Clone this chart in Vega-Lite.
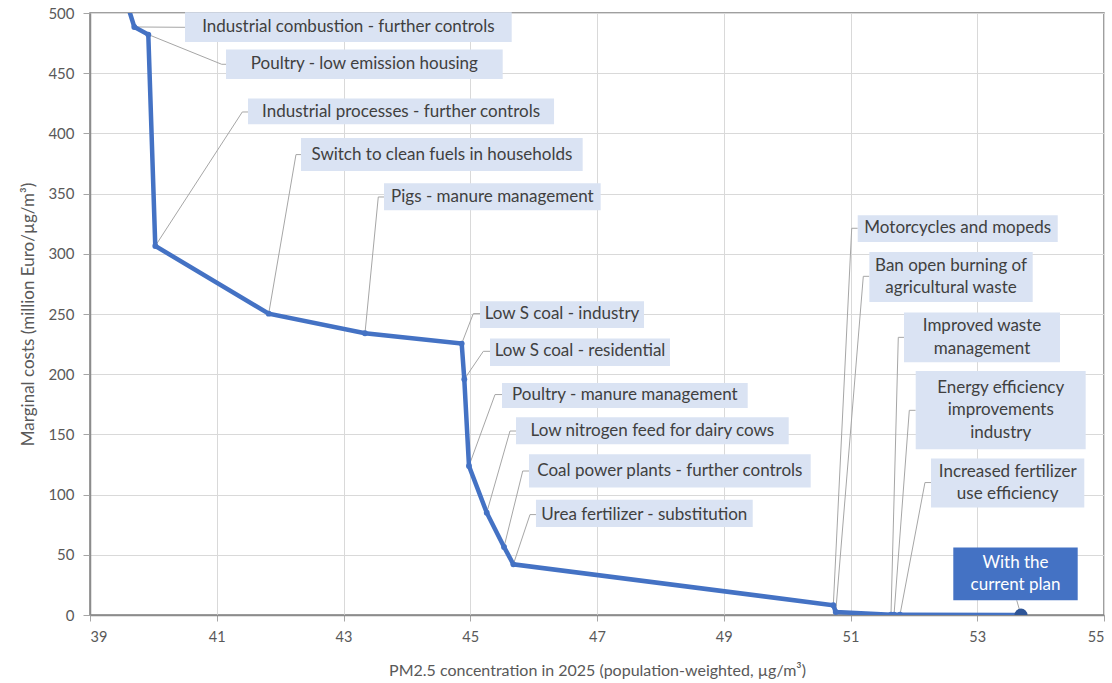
{
  "$schema": "https://vega.github.io/schema/vega-lite/v6.json",
  "width": 1014,
  "height": 602,
  "autosize": {"type": "none"},
  "padding": {"left": 90, "top": 13, "right": 8, "bottom": 68},
  "background": "white",
  "config": {
    "view": {"stroke": "#808080", "strokeWidth": 1.5},
    "font": "Lato",
    "axis": {
      "grid": true,
      "gridColor": "#D9D9D9",
      "gridWidth": 1,
      "domainColor": "#8C8C8C",
      "domainWidth": 1.5,
      "tickColor": "#A6A6A6",
      "tickSize": 7,
      "labelColor": "#595959",
      "labelFont": "Lato",
      "titleFont": "Lato",
      "titleColor": "#595959",
      "titleFontWeight": "normal"
    }
  },
  "datasets": {
    "curve": [
      {"pm": 39.56, "cost": 512},
      {"pm": 39.699, "cost": 488.4},
      {"pm": 39.92, "cost": 482.1},
      {"pm": 40.03, "cost": 306.5},
      {"pm": 41.82, "cost": 250.3},
      {"pm": 43.339, "cost": 234.0},
      {"pm": 44.865, "cost": 225.4},
      {"pm": 44.906, "cost": 195.8},
      {"pm": 44.98, "cost": 123.8},
      {"pm": 45.26, "cost": 85.0},
      {"pm": 45.533, "cost": 56.5},
      {"pm": 45.68, "cost": 42.1},
      {"pm": 50.729, "cost": 8.1},
      {"pm": 50.767, "cost": 2.5},
      {"pm": 51.639, "cost": 0.3},
      {"pm": 51.687, "cost": 0.3},
      {"pm": 51.781, "cost": 0.2},
      {"pm": 53.69, "cost": 0}
    ],
    "labels": [
      {"label": "Industrial combustion - further controls", "kind": "m", "pm": 39.699, "cost": 488.4, "ex": 40.499, "ey": 488.1, "hx": 40.499, "x1": 40.499, "x2": 45.654, "y1": 500.6, "y2": 475.9, "tx": 43.077, "ty": 488.1},
      {"label": "Poultry - low emission housing", "kind": "m", "pm": 39.92, "cost": 482.1, "ex": 41.078, "ey": 457.4, "hx": 41.146, "x1": 41.146, "x2": 45.512, "y1": 469.6, "y2": 445.2, "tx": 43.329, "ty": 457.4},
      {"label": "Industrial processes - further controls", "kind": "m", "pm": 40.03, "cost": 306.5, "ex": 41.403, "ey": 417.8, "hx": 41.493, "x1": 41.493, "x2": 46.322, "y1": 428.9, "y2": 407.6, "tx": 43.908, "ty": 417.8},
      {"label": "Switch to clean fuels in households", "kind": "m", "pm": 41.82, "cost": 250.3, "ex": 42.25, "ey": 382.4, "hx": 42.329, "x1": 42.329, "x2": 46.774, "y1": 396.2, "y2": 368.8, "tx": 44.552, "ty": 382.4},
      {"label": "Pigs - manure management", "kind": "m", "pm": 43.339, "cost": 234.0, "ex": 43.549, "ey": 347.2, "hx": 43.639, "x1": 43.639, "x2": 47.058, "y1": 358.6, "y2": 336.1, "tx": 45.349, "ty": 347.2},
      {"label": "Low S coal - industry", "kind": "m", "pm": 44.865, "cost": 225.4, "ex": 45.048, "ey": 250.3, "hx": 45.154, "x1": 45.154, "x2": 47.742, "y1": 260.5, "y2": 238.4, "tx": 46.448, "ty": 250.3},
      {"label": "Low S coal - residential", "kind": "m", "pm": 44.906, "cost": 195.8, "ex": 45.206, "ey": 219.0, "hx": 45.312, "x1": 45.312, "x2": 48.152, "y1": 229.6, "y2": 206.8, "tx": 46.732, "ty": 219.0},
      {"label": "Poultry - manure management", "kind": "m", "pm": 44.98, "cost": 123.8, "ex": 45.391, "ey": 183.1, "hx": 45.501, "x1": 45.501, "x2": 49.378, "y1": 192.7, "y2": 171.9, "tx": 47.44, "ty": 183.1},
      {"label": "Low nitrogen feed for dairy cows", "kind": "m", "pm": 45.26, "cost": 85.0, "ex": 45.627, "ey": 152.8, "hx": 45.722, "x1": 45.722, "x2": 50.025, "y1": 164.2, "y2": 141.8, "tx": 47.874, "ty": 152.8},
      {"label": "Coal power plants - further controls", "kind": "m", "pm": 45.533, "cost": 56.5, "ex": 45.828, "ey": 119.6, "hx": 45.927, "x1": 45.927, "x2": 50.372, "y1": 133.5, "y2": 105.8, "tx": 48.15, "ty": 119.6},
      {"label": "Urea fertilizer - substitution", "kind": "m", "pm": 45.68, "cost": 42.1, "ex": 45.943, "ey": 83.4, "hx": 46.037, "x1": 46.037, "x2": 49.457, "y1": 95.8, "y2": 73.1, "tx": 47.747, "ty": 83.4},
      {"label": "Motorcycles and mopeds", "kind": "m", "pm": 50.729, "cost": 8.1, "ex": 51.019, "ey": 321.2, "hx": 51.114, "x1": 51.114, "x2": 54.27, "y1": 332.0, "y2": 309.8, "tx": 52.692, "ty": 321.2},
      {"label": "Ban open burning of\nagricultural waste", "kind": "m", "pm": 50.767, "cost": 2.5, "ex": 51.202, "ey": 281.3, "hx": 51.297, "x1": 51.297, "x2": 53.875, "y1": 301.5, "y2": 260.0, "tx": 52.586, "ty": 280.7},
      {"label": "Improved waste\nmanagement", "kind": "m", "pm": 51.639, "cost": 0.3, "ex": 51.754, "ey": 230.6, "hx": 51.844, "x1": 51.844, "x2": 54.306, "y1": 251.2, "y2": 209.9, "tx": 53.075, "ty": 230.6},
      {"label": "Energy efficiency\nimprovements\nindustry", "kind": "m", "pm": 51.687, "cost": 0.3, "ex": 51.928, "ey": 170.0, "hx": 52.029, "x1": 52.029, "x2": 54.711, "y1": 202.7, "y2": 137.6, "tx": 53.37, "ty": 170.2},
      {"label": "Increased fertilizer\nuse efficiency", "kind": "m", "pm": 51.781, "cost": 0.2, "ex": 52.175, "ey": 110.0, "hx": 52.27, "x1": 52.27, "x2": 54.689, "y1": 129.9, "y2": 89.2, "tx": 53.48, "ty": 109.6},
      {"label": "With the\ncurrent plan", "kind": "plan", "pm": 53.69, "cost": 0, "ex": 53.623, "ey": 12.2, "hx": 53.623, "x1": 52.622, "x2": 54.585, "y1": 56.0, "y2": 12.2, "tx": 53.604, "ty": 34.1}
    ]
  },
  "encoding": {
    "x": {
      "type": "quantitative",
      "scale": {"domain": [39, 55], "nice": false, "zero": false},
      "axis": {
        "values": [39, 41, 43, 45, 47, 49, 51, 53, 55],
        "title": "PM2.5 concentration in 2025 (population-weighted, µg/m³)",
        "labelFontSize": 14.5,
        "labelPadding": 9,
        "titleFontSize": 16,
        "titlePadding": 19,
        "tickSize": 6
      }
    },
    "y": {
      "type": "quantitative",
      "scale": {"domain": [0, 500], "nice": false},
      "axis": {
        "values": [0, 50, 100, 150, 200, 250, 300, 350, 400, 450, 500],
        "title": "Marginal costs (million Euro/µg/m³)",
        "labelFontSize": 15,
        "labelPadding": 9,
        "titleFontSize": 17,
        "titlePadding": 10
      }
    }
  },
  "layer": [
    {
      "data": {"name": "labels"},
      "mark": {"type": "rule", "color": "#A6A6A6", "strokeWidth": 1},
      "encoding": {
        "x": {"field": "pm"},
        "y": {"field": "cost"},
        "x2": {"field": "ex"},
        "y2": {"field": "ey"}
      }
    },
    {
      "data": {"name": "labels"},
      "mark": {"type": "rule", "color": "#A6A6A6", "strokeWidth": 1},
      "encoding": {
        "x": {"field": "ex"},
        "y": {"field": "ey"},
        "x2": {"field": "hx"}
      }
    },
    {
      "data": {"name": "curve"},
      "mark": {"type": "line", "color": "#4472C4", "strokeWidth": 4.5, "clip": true},
      "encoding": {
        "x": {"field": "pm"},
        "y": {"field": "cost"},
        "order": {"field": "pm", "type": "quantitative"}
      }
    },
    {
      "data": {"name": "curve"},
      "transform": [{"filter": "datum.cost <= 500 && datum.pm < 53"}],
      "mark": {"type": "circle", "color": "#4472C4", "size": 34, "opacity": 1, "clip": true},
      "encoding": {
        "x": {"field": "pm"},
        "y": {"field": "cost"}
      }
    },
    {
      "data": {"name": "curve"},
      "transform": [{"filter": "datum.pm > 53"}],
      "mark": {"type": "circle", "color": "#2F5597", "size": 170, "opacity": 1, "clip": true},
      "encoding": {
        "x": {"field": "pm"},
        "y": {"field": "cost"}
      }
    },
    {
      "data": {"name": "labels"},
      "transform": [{"filter": "datum.kind == 'm'"}],
      "mark": {"type": "rect", "color": "#DAE3F3", "opacity": 1},
      "encoding": {
        "x": {"field": "x1"},
        "x2": {"field": "x2"},
        "y": {"field": "y1"},
        "y2": {"field": "y2"}
      }
    },
    {
      "data": {"name": "labels"},
      "transform": [{"filter": "datum.kind == 'plan'"}],
      "mark": {"type": "rect", "color": "#4472C4", "opacity": 1},
      "encoding": {
        "x": {"field": "x1"},
        "x2": {"field": "x2"},
        "y": {"field": "y1"},
        "y2": {"field": "y2"}
      }
    },
    {
      "data": {"name": "labels"},
      "transform": [{"filter": "datum.kind == 'm' && split(datum.label, '\\n').length == 1"}],
      "mark": {"type": "text", "font": "Lato", "fontSize": 17, "color": "#404040", "align": "center", "baseline": "middle", "lineBreak": "\n", "lineHeight": 22.5},
      "encoding": {
        "x": {"field": "tx"},
        "y": {"field": "ty"},
        "text": {"field": "label"}
      }
    },
    {
      "data": {"name": "labels"},
      "transform": [{"filter": "datum.kind == 'm' && split(datum.label, '\\n').length == 2"}],
      "mark": {"type": "text", "font": "Lato", "fontSize": 17, "color": "#404040", "align": "center", "baseline": "middle", "lineBreak": "\n", "lineHeight": 22.5, "dy": -11.25},
      "encoding": {
        "x": {"field": "tx"},
        "y": {"field": "ty"},
        "text": {"field": "label"}
      }
    },
    {
      "data": {"name": "labels"},
      "transform": [{"filter": "datum.kind == 'm' && split(datum.label, '\\n').length == 3"}],
      "mark": {"type": "text", "font": "Lato", "fontSize": 17, "color": "#404040", "align": "center", "baseline": "middle", "lineBreak": "\n", "lineHeight": 22.5, "dy": -22.5},
      "encoding": {
        "x": {"field": "tx"},
        "y": {"field": "ty"},
        "text": {"field": "label"}
      }
    },
    {
      "data": {"name": "labels"},
      "transform": [{"filter": "datum.kind == 'plan'"}],
      "mark": {"type": "text", "font": "Lato", "fontSize": 17, "color": "#FFFFFF", "align": "center", "baseline": "middle", "lineBreak": "\n", "lineHeight": 22.5, "dy": -11.25},
      "encoding": {
        "x": {"field": "tx"},
        "y": {"field": "ty"},
        "text": {"field": "label"}
      }
    }
  ]
}
